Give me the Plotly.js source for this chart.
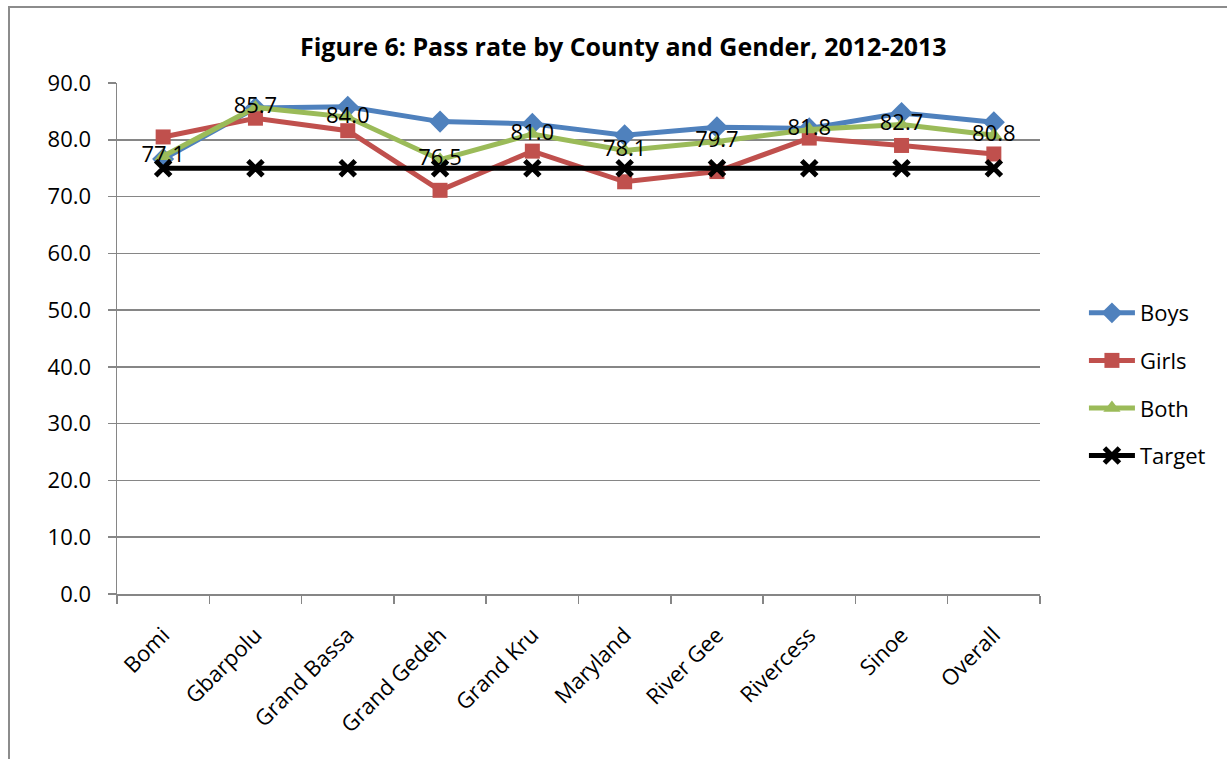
<!DOCTYPE html>
<html>
<head>
<meta charset="utf-8">
<script src="https://cdn.plot.ly/plotly-3.0.1.min.js"></script>
<style>
  html, body { margin: 0; padding: 0; background: #fff; }
  #chart { position: absolute; left: 0; top: 0; width: 1227px; height: 759px; }
  #frame { position: absolute; left: 8px; top: 6px; width: 1230px; height: 770px;
           border-left: 2px solid #8c8c8c; border-top: 2px solid #8c8c8c; pointer-events: none; }
</style>
</head>
<body>
<div id="chart"></div>
<div id="frame"></div>
<script>
// Pass rate (%) by county and gender, 2012-2013
const counties = ["Bomi", "Gbarpolu", "Grand Bassa", "Grand Gedeh", "Grand Kru",
                  "Maryland", "River Gee", "Rivercess", "Sinoe", "Overall"];
const boys   = [76.6, 85.6, 85.8, 83.2, 82.8, 80.8, 82.2, 82.0, 84.7, 83.1];
const girls  = [80.5, 83.8, 81.6, 71.1, 78.0, 72.6, 74.4, 80.3, 79.0, 77.5];
const both   = [77.1, 85.7, 84.0, 76.5, 81.0, 78.1, 79.7, 81.8, 82.7, 80.8];
const target = [75.0, 75.0, 75.0, 75.0, 75.0, 75.0, 75.0, 75.0, 75.0, 75.0];
const yTicks = [0, 10, 20, 30, 40, 50, 60, 70, 80, 90];

const FONT = "'Open Sans', 'Noto Sans', sans-serif";

const traces = [
  { name: "Boys", x: counties, y: boys, type: "scatter", mode: "lines+markers",
    line: { color: "#4F81BD", width: 5 },
    marker: { symbol: "diamond", size: 17, color: "#4F81BD" }, legendgroup: "a" },
  { name: "Girls", x: counties, y: girls, type: "scatter", mode: "lines+markers",
    line: { color: "#C0504D", width: 5 },
    marker: { symbol: "square", size: 15, color: "#C0504D" }, legendgroup: "b" },
  { name: "Both", x: counties, y: both, type: "scatter", mode: "lines+markers",
    line: { color: "#9BBB59", width: 5 },
    marker: { symbol: "triangle-up", size: 15, color: "#9BBB59" }, legendgroup: "c" },
  { name: "Target", x: counties, y: target, type: "scatter", mode: "lines+markers",
    line: { color: "#000000", width: 5 },
    marker: { symbol: "x-thin", size: 15, color: "#000000", line: { width: 5, color: "#000000" } },
    legendgroup: "d" },
  // value labels for the combined series, drawn on top
  { x: counties, y: both, type: "scatter", mode: "text", showlegend: false,
    text: both.map(v => v.toFixed(1)), textposition: "middle center",
    textfont: { family: FONT, size: 22, color: "#000" }, hoverinfo: "skip" }
];

const layout = {
  width: 1227, height: 759,
  margin: { l: 117, r: 187, t: 83, b: 165 },
  paper_bgcolor: "#fff", plot_bgcolor: "#fff",
  font: { family: FONT, color: "#000" },
  title: { text: "<b>Figure 6: Pass rate by County and Gender, 2012-2013</b>",
           font: { family: FONT, size: 25, color: "#000" },
           x: 0.508, xanchor: "center", xref: "container",
           y: 0.938, yanchor: "middle", yref: "container" },
  xaxis: { type: "category", range: [-0.5, 9.5], tickangle: -45, tickson: "boundaries",
           ticks: "outside", ticklen: 8, tickcolor: "#868686", tickwidth: 1.5,
           ticklabelstandoff: 18,
           showline: true, linecolor: "#868686", linewidth: 1.5,
           showgrid: false, zeroline: false,
           tickfont: { family: FONT, size: 22, color: "#000" } },
  yaxis: { range: [0, 90], tickvals: yTicks, ticktext: yTicks.map(v => v.toFixed(1)),
           ticks: "outside", ticklen: 8, tickcolor: "#868686", tickwidth: 1.5,
           ticklabelstandoff: 12,
           showline: true, linecolor: "#868686", linewidth: 1.5,
           showgrid: true, gridcolor: "#868686", gridwidth: 1.5, zeroline: false,
           tickfont: { family: FONT, size: 22, color: "#000" } },
  legend: { x: 1.0476, xanchor: "left", y: 0.41, yanchor: "middle",
            traceorder: "grouped", tracegroupgap: 16, itemwidth: 46,
            font: { family: FONT, size: 22, color: "#000" },
            bgcolor: "rgba(0,0,0,0)" },
  showlegend: true
};

Plotly.newPlot("chart", traces, layout, { displayModeBar: false, staticPlot: true });
</script>
</body>
</html>
